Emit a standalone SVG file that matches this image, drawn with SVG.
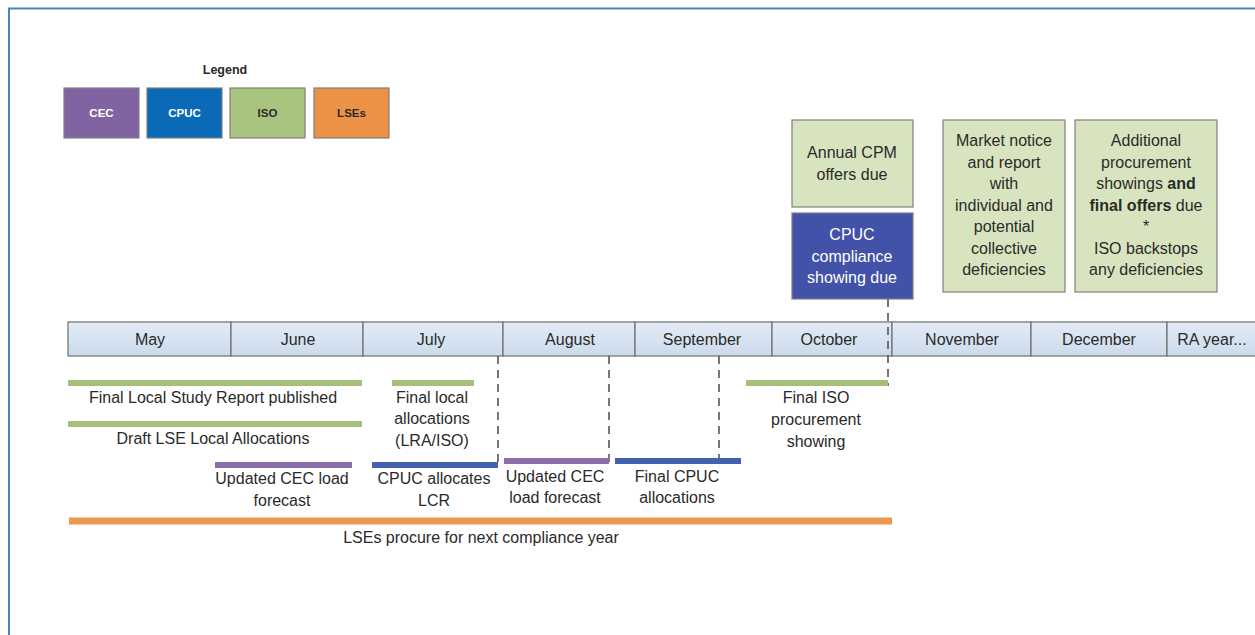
<svg xmlns="http://www.w3.org/2000/svg" width="1255" height="635" viewBox="0 0 1255 635">
<defs>
<linearGradient id="mg" x1="0" y1="0" x2="0" y2="1"><stop offset="0" stop-color="#e3ebf5"/><stop offset="1" stop-color="#cbdbec"/></linearGradient>
<style>
text{font-family:"Liberation Sans",Arial,sans-serif;fill:#2a2a2a;text-anchor:middle}
.t{font-size:16px}
.m{font-size:16px}
.lg{font-size:11.5px;font-weight:bold}
.w{fill:#ffffff}
.month{fill:url(#mg);stroke:#6e6e6e;stroke-width:1.2}
.bar{stroke-width:6;fill:none}
.g{stroke:#a4bf7a}
.p{stroke:#8a6fab}
.b{stroke:#4460b0}
.o{stroke:#ec9850;stroke-width:7}
.d{stroke:#555;stroke-width:1.6;stroke-dasharray:8,6;fill:none}
.box{stroke:#7f7f7f;stroke-width:1.2}
</style>
</defs>
<rect x="0" y="0" width="1255" height="635" fill="#ffffff"/>
<path d="M9,635 V8.5 H1255" fill="none" stroke="#4f81bd" stroke-width="2"/>

<g id="legend">
<text x="225" y="74" class="lg" style="font-size:12.5px">Legend</text>
<rect x="64" y="88" width="75" height="50" fill="#8064a2" class="box"/>
<text x="101.5" y="117" class="lg w">CEC</text>
<rect x="147" y="88" width="75" height="50" fill="#0a6ab8" class="box"/>
<text x="184.5" y="117" class="lg w">CPUC</text>
<rect x="230" y="88" width="75" height="50" fill="#a9c47f" class="box"/>
<text x="267.5" y="117" class="lg">ISO</text>
<rect x="314" y="88" width="75" height="50" fill="#eb9246" class="box"/>
<text x="351.5" y="117" class="lg">LSEs</text>
</g>

<g id="months">
<rect x="68" y="322" width="163" height="34" class="month"/><text x="150" y="345" class="m">May</text>
<rect x="231" y="322" width="132" height="34" class="month"/><text x="298" y="345" class="m">June</text>
<rect x="363" y="322" width="140" height="34" class="month"/><text x="431" y="345" class="m">July</text>
<rect x="503" y="322" width="132" height="34" class="month"/><text x="570" y="345" class="m">August</text>
<rect x="635" y="322" width="137" height="34" class="month"/><text x="702" y="345" class="m">September</text>
<rect x="772" y="322" width="120" height="34" class="month"/><text x="829" y="345" class="m">October</text>
<rect x="892" y="322" width="139" height="34" class="month"/><text x="962" y="345" class="m">November</text>
<rect x="1031" y="322" width="136" height="34" class="month"/><text x="1099" y="345" class="m">December</text>
<rect x="1167" y="322" width="95" height="34" class="month"/><text x="1212" y="345" class="m">RA year...</text>
</g>

<g id="top-boxes">
<g id="cpm">
<rect x="792" y="120" width="121" height="87" fill="#d8e4bf" class="box"/>
<text x="852" y="158" class="t">Annual CPM</text>
<text x="852" y="180" class="t">offers due</text>
</g>
<g id="cpuc-compliance">
<rect x="792" y="213" width="121" height="86" fill="#4252a8" class="box"/>
<text x="852" y="240" class="t w">CPUC</text>
<text x="852" y="262" class="t w">compliance</text>
<text x="852" y="283" class="t w">showing due</text>
</g>
<g id="market-notice">
<rect x="943" y="120" width="122" height="172" fill="#d8e4bf" class="box"/>
<text x="1004" y="146" class="t">Market notice</text>
<text x="1004" y="168" class="t">and report</text>
<text x="1004" y="189" class="t">with</text>
<text x="1004" y="211" class="t">individual and</text>
<text x="1004" y="232" class="t">potential</text>
<text x="1004" y="254" class="t">collective</text>
<text x="1004" y="275" class="t">deficiencies</text>
</g>
<g id="additional">
<rect x="1075" y="120" width="142" height="172" fill="#d8e4bf" class="box"/>
<text x="1146" y="146" class="t">Additional</text>
<text x="1146" y="168" class="t">procurement</text>
<text x="1146" y="189" class="t">showings <tspan font-weight="bold">and</tspan></text>
<text x="1146" y="211" class="t"><tspan font-weight="bold">final offers</tspan> due</text>
<text x="1146" y="232" class="t">*</text>
<text x="1146" y="254" class="t">ISO backstops</text>
<text x="1146" y="275" class="t">any deficiencies</text>
</g>
</g>

<g id="connectors">
<line x1="888" y1="299" x2="888" y2="386" class="d"/>
<line x1="498" y1="356" x2="498" y2="466" class="d"/>
<line x1="609" y1="356" x2="609" y2="462" class="d"/>
<line x1="719" y1="356" x2="719" y2="462" class="d"/>
</g>

<g id="events">
<g id="final-local-study"><line x1="68" y1="383" x2="362" y2="383" class="bar g"/><text x="213" y="403" class="t">Final Local Study Report published</text></g>
<g id="draft-lse"><line x1="68" y1="424" x2="362" y2="424" class="bar g"/><text x="213" y="444" class="t">Draft LSE Local Allocations</text></g>
<g id="final-local-alloc"><line x1="392" y1="383" x2="474" y2="383" class="bar g"/>
<text x="432" y="403" class="t">Final local</text><text x="432" y="424" class="t">allocations</text><text x="432" y="446" class="t">(LRA/ISO)</text></g>
<g id="cec-june"><line x1="215" y1="465" x2="352" y2="465" class="bar p"/>
<text x="282" y="484" class="t">Updated CEC load</text><text x="282" y="506" class="t">forecast</text></g>
<g id="cpuc-lcr"><line x1="372" y1="465" x2="498" y2="465" class="bar b"/>
<text x="434" y="484" class="t">CPUC allocates</text><text x="434" y="506" class="t">LCR</text></g>
<g id="cec-aug"><line x1="504" y1="461" x2="609" y2="461" class="bar p"/>
<text x="555" y="482" class="t">Updated CEC</text><text x="555" y="503" class="t">load forecast</text></g>
<g id="final-cpuc"><line x1="615" y1="461" x2="741" y2="461" class="bar b"/>
<text x="677" y="482" class="t">Final CPUC</text><text x="677" y="503" class="t">allocations</text></g>
<g id="final-iso"><line x1="746" y1="383" x2="888" y2="383" class="bar g"/>
<text x="816" y="403" class="t">Final ISO</text><text x="816" y="425" class="t">procurement</text><text x="816" y="447" class="t">showing</text></g>
<g id="lses-procure"><line x1="69" y1="521" x2="892" y2="521" class="bar o"/>
<text x="481" y="543" class="t">LSEs procure for next compliance year</text></g>
</g>
</svg>
